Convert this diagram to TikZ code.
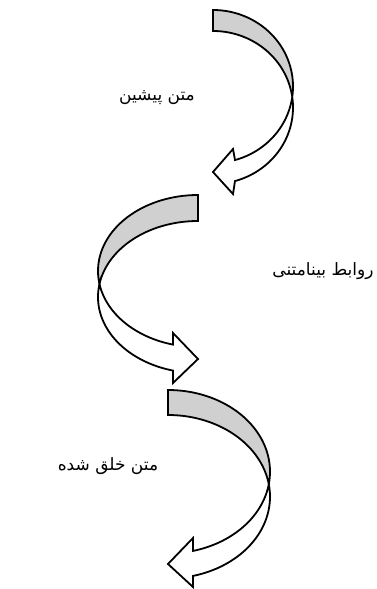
\documentclass[tikz,border=0pt]{standalone}
\usepackage{fontspec}
\newfontfamily\arabicfont[Script=Arabic]{DejaVu Sans}
\TeXXeTstate=1
\definecolor{backgray}{RGB}{208,208,208}
\begin{document}
\begin{tikzpicture}[x=1pt,y=-1pt,
  outline/.style={draw=black,line width=1.8pt,line join=miter,miter limit=10},
  backband/.style={outline,fill=backgray},
  frontband/.style={outline,fill=white},
  farsi/.style={font=\arabicfont\fontsize{17}{20}\selectfont,inner sep=0pt}]
\useasboundingbox (0,0) rectangle (376,589);
% arrow 1
\draw[backband] plot[domain=-90:7.89,samples=60] ({213+80*cos(\x)},{86.5+76.5*sin(\x)})
  -- plot[domain=-7.89:-90,samples=60] ({213+80*cos(\x)},{107.5+76.5*sin(\x)}) -- cycle;
\draw[frontband] plot[domain=-7.89:74.04,samples=60] ({213+80*cos(\x)},{107.5+76.5*sin(\x)})
  -- (233,194) -- (213,172) -- (233,149)
  -- plot[domain=74.04:7.89,samples=60] ({213+80*cos(\x)},{86.5+76.5*sin(\x)}) -- cycle;
% arrow 2
\draw[backband] plot[domain=-90:-189.85,samples=60] ({198+100*cos(\x)},{271+76*sin(\x)})
  -- plot[domain=-170.15:-90,samples=60] ({198+100*cos(\x)},{297+76*sin(\x)}) -- cycle;
\draw[frontband] plot[domain=189.85:104.48,samples=60] ({198+100*cos(\x)},{297+76*sin(\x)})
  -- (173,383) -- (198,359) -- (173,333)
  -- plot[domain=104.48:170.15,samples=60] ({198+100*cos(\x)},{271+76*sin(\x)}) -- cycle;
% arrow 3
\draw[backband] plot[domain=-90:8.80,samples=60] ({168+102*cos(\x)},{471.7+81.7*sin(\x)})
  -- plot[domain=-8.80:-90,samples=60] ({168+102*cos(\x)},{496.7+81.7*sin(\x)}) -- cycle;
\draw[frontband] plot[domain=-8.80:75.81,samples=60] ({168+102*cos(\x)},{496.7+81.7*sin(\x)})
  -- (193,587) -- (168,564) -- (193,538)
  -- plot[domain=75.81:8.80,samples=60] ({168+102*cos(\x)},{471.7+81.7*sin(\x)}) -- cycle;
% labels
\node[farsi] (t1) at (157,98) {\beginR متن پیشین\endR};
\node[farsi] (t2) at (323,271) {\beginR روابط بینامتنی\endR};
\node[farsi] (t3) at (108,466) {\beginR متن خلق شده\endR};
\end{tikzpicture}
\end{document}
